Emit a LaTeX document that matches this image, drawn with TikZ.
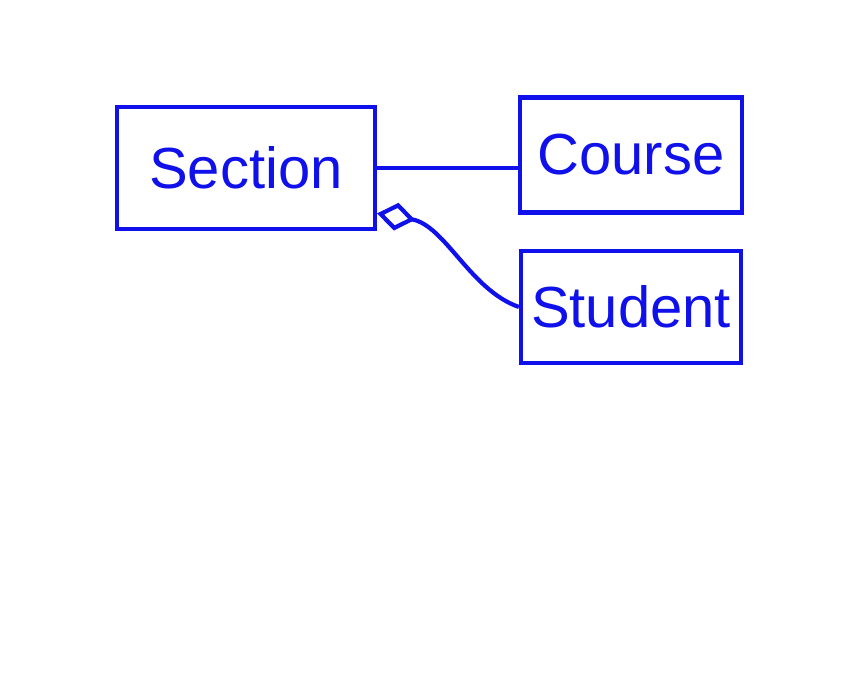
\documentclass[tikz,border=0pt]{standalone}
\usepackage{fontspec}
\setmainfont{Liberation Sans}
\usetikzlibrary{arrows.meta, positioning, calc}
\definecolor{penblue}{RGB}{16,16,235}
\tikzset{
    classbox/.style={rectangle, draw=penblue, line width=2.4pt, text=penblue, inner sep=0pt, font=\fontsize{33}{38}\selectfont},
    assoc/.style={penblue, line width=2.4pt},
    aggr/.style={penblue, line width=2.4pt, line join=round, -{Diamond[open, length=22pt, width=16pt, line width=2.4pt]}},
}
\begin{document}
\begin{tikzpicture}[x=0.02cm, y=-0.02cm]
    \useasboundingbox (0,0) rectangle (860,675);
    \node[classbox, minimum width=5.16cm, minimum height=2.44cm] (section) at (246,168) {Section};
    \node[classbox, minimum width=4.44cm, minimum height=2.30cm] (course) at (631,155) {Course};
    \node[classbox, minimum width=4.40cm, minimum height=2.24cm] (student) at (631,307) {Student};
    \coordinate (aggend) at ($(section.south east)!0.14!(section.north east)$);
    \draw[assoc] (section.east) -- (section.east -| course.west);
    \draw[aggr] (student.west) .. controls (470,290) and (445,225) .. (aggend);
\end{tikzpicture}
\end{document}
